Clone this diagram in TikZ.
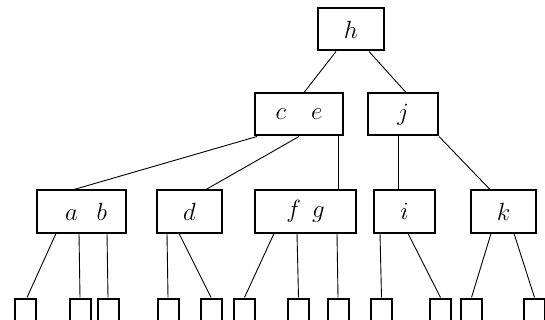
\documentclass[tikz,border=0pt]{standalone}
\usepackage{tikz}
\usetikzlibrary{positioning}
\tikzset{
  keybox/.style={draw, line width=2pt, minimum height=42pt, inner sep=0pt,
    font=\fontsize{25}{30}\selectfont},
  leafbox/.style={draw, line width=2pt, minimum width=21pt, minimum height=26pt, inner sep=0pt},
  edge/.style={line width=0.9pt},
}

\begin{document}
\begin{tikzpicture}[x=1pt, y=-1pt]
\path[use as bounding box, clip] (0,0) rectangle (545,320);

% inner keys
\node[keybox, minimum width=66pt] (h) at (351,29.5) {$h$};
\node[keybox, minimum width=88pt] (ce) at (299,114.5) {$c\quad e$\hspace{8pt}};
\node[keybox, minimum width=70pt] (j) at (403,114.5) {$j$\hspace{22pt}};
\node[keybox, minimum width=89pt] (ab) at (81.5,211.5) {\hspace{9pt}$a\hspace{0.75em}b$};
\node[keybox, minimum width=65pt] (d) at (189.5,211.5) {$d$};
\node[keybox, minimum width=101pt] (fg) at (305.5,211.5) {$f\hspace{0.45em}g$\hspace{10pt}};
\node[keybox, minimum width=61pt] (i) at (404.5,211.5) {$i$\hspace{22pt}};
\node[keybox, minimum width=65pt] (k) at (503.5,211.5) {$k$};

% leaves (cut off by the lower edge)
\foreach \n/\x in {1/25.5, 2/80, 3/108, 4/168, 5/211, 6/244.5, 7/298.5,
                   8/338, 9/381.5, 10/440.5, 11/471.5, 12/534.5}
  \node[leafbox] (l\n) at (\x,311.5) {};

% root level
\draw[edge] ([xshift=19pt]h.south west) -- ([xshift=50pt]ce.north west);
\draw[edge] ([xshift=52pt]h.south west) -- ([xshift=39pt]j.north west);

% middle level
\draw[edge] ([xshift=3pt]ce.south west) -- ([xshift=38pt]ab.north west);
\draw[edge] ([xshift=45pt]ce.south west) -- ([xshift=50pt]d.north west);
\draw[edge] ([xshift=84pt]ce.south west) -- ([xshift=84pt]fg.north west);
\draw[edge] ([xshift=31pt]j.south west) -- ([xshift=25pt]i.north west);
\draw[edge] (j.south east) -- ([xshift=20pt]k.north west);

% bottom level
\draw[edge] ([xshift=20pt]ab.south west) -- ([xshift=1.5pt]l1.north);
\draw[edge] ([xshift=43pt]ab.south west) -- (l2.north);
\draw[edge] ([xshift=71pt]ab.south west) -- (l3.north);
\draw[edge] ([xshift=11pt]d.south west) -- (l4.north);
\draw[edge] ([xshift=23pt]d.south west) -- (l5.north);
\draw[edge] ([xshift=20pt]fg.south west) -- (l6.north);
\draw[edge] ([xshift=43pt]fg.south west) -- (l7.north);
\draw[edge] ([xshift=83pt]fg.south west) -- (l8.north);
\draw[edge] ([xshift=7pt]i.south west) -- (l9.north);
\draw[edge] ([xshift=35pt]i.south west) -- (l10.north);
\draw[edge] ([xshift=21pt]k.south west) -- (l11.north);
\draw[edge] ([xshift=44pt]k.south west) -- (l12.north);
\end{tikzpicture}
\end{document}
